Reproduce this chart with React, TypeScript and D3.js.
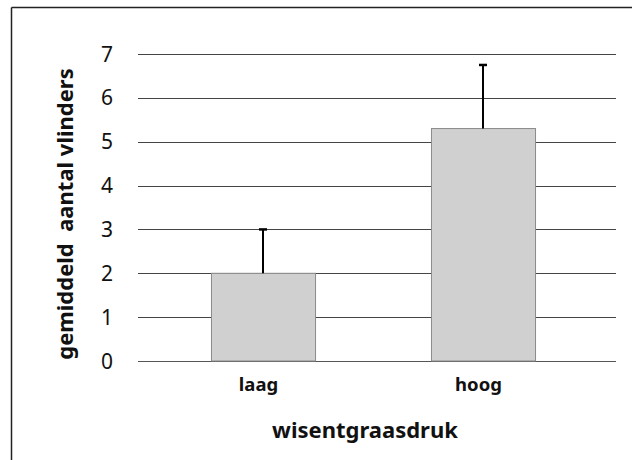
import React from "react";
import * as d3 from "d3";

const categories = ["laag", "hoog"];
const means = [2.0, 5.3];
const errorsUp = [1.0, 1.45];
const yTicks = [0, 1, 2, 3, 4, 5, 6, 7];
const yTitle = "gemiddeld\u00a0 aantal vlinders";
const xTitle = "wisentgraasdruk";

const W = 632;
const H = 460;

export default function App() {
  const y = d3.scaleLinear().domain([0, 7]).range([361, 54]);
  const x = d3
    .scaleBand<string>()
    .domain(categories)
    .range([153, 593])
    .paddingInner(0.527)
    .paddingOuter(0.2635);
  const font = "'Noto Sans', sans-serif";
  return (
    <svg
      width={W}
      height={H}
      style={{ position: "absolute", left: 0, top: 0, background: "#fff" }}
    >
      {/* frame */}
      <line x1={11.5} y1={7.5} x2={W} y2={7.5} stroke="#222" strokeWidth={1.5} />
      <line x1={11.5} y1={7.5} x2={11.5} y2={H} stroke="#222" strokeWidth={1.5} />
      {/* gridlines */}
      {yTicks.map((t) => (
        <line
          key={t}
          x1={138}
          x2={616}
          y1={Math.round(y(t)) + 0.5}
          y2={Math.round(y(t)) + 0.5}
          stroke={t === 0 ? "#555" : "#444"}
          strokeWidth={1}
        />
      ))}
      {/* tick labels */}
      {yTicks.map((t) => (
        <text
          key={t}
          x={107}
          y={y(t) + 7.5}
          textAnchor="middle"
          fontFamily={font}
          fontSize={21}
          fill="#111"
        >
          {t}
        </text>
      ))}
      {/* bars */}
      {categories.map((c, i) => (
        <rect
          key={c}
          x={x(c)! + 0.5}
          y={y(means[i])}
          width={x.bandwidth()}
          height={y(0) - y(means[i])}
          fill="#d0d0d0"
          stroke="#8a8a8a"
          strokeWidth={1}
        />
      ))}
      {/* error bars */}
      {categories.map((c, i) => {
        const cx = Math.round(x(c)! + x.bandwidth() / 2);
        const top = y(means[i] + errorsUp[i]);
        return (
          <g key={c}>
            <line x1={cx} x2={cx} y1={y(means[i])} y2={top} stroke="#000" strokeWidth={2} />
            <line x1={cx - 4} x2={cx + 4} y1={top} y2={top} stroke="#000" strokeWidth={2.5} />
          </g>
        );
      })}
      {/* category labels */}
      {categories.map((c) => (
        <text
          key={c}
          x={x(c)! + x.bandwidth() / 2 - 4.5}
          y={391}
          textAnchor="middle"
          fontFamily={font}
          fontSize={18.5}
          fontWeight="bold"
          fill="#111"
        >
          {c}
        </text>
      ))}
      {/* x title */}
      <text
        x={365}
        y={438}
        textAnchor="middle"
        fontFamily={font}
        fontSize={22}
        fontWeight="bold"
        fill="#111"
      >
        {xTitle}
      </text>
      {/* y title */}
      <text
        transform="translate(73,214) rotate(-90)"
        textAnchor="middle"
        fontFamily={font}
        fontSize={22}
        fontWeight="bold"
        fill="#111"
      >
        {yTitle}
      </text>
    </svg>
  );
}
